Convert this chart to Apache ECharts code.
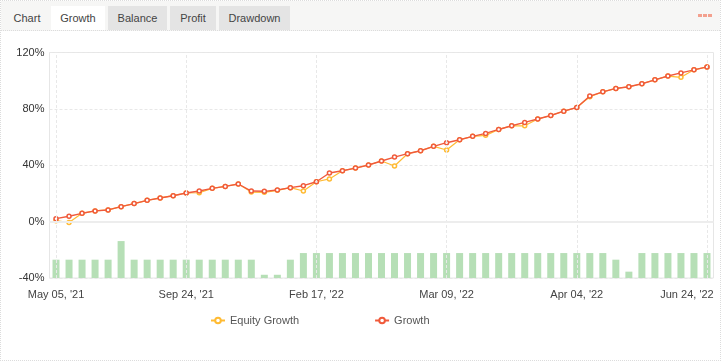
<!DOCTYPE html>
<html>
<head>
<meta charset="utf-8">
<script src="https://cdn.jsdelivr.net/npm/echarts@6/dist/echarts.min.js"></script>
<style>
  html, body { margin: 0; padding: 0; background: #fff; }
  #wrap { position: relative; width: 721px; height: 361px; box-sizing: border-box; border: 1px dotted #dcdcdc; overflow: hidden; }
  #strip { position: absolute; left: 0; top: 0; width: 721px; height: 29px; background: #f6f6f5; border-bottom: 1px dotted #dcdcdc; }
  .tab { position: absolute; top: 5px; height: 24px; line-height: 24px; font-family: Arial, "Liberation Sans", sans-serif; font-size: 11px; color: #444; text-align: center; box-sizing: border-box; }
  .tab.grey { background: #e4e4e4; }
  .tab.active { background: #fff; }
  .dot { position: absolute; top: 13px; width: 4px; height: 3px; background: #f3a08e; }
  #chart { position: absolute; left: 0; top: 0; width: 721px; height: 361px; }
</style>
</head>
<body>
<div id="wrap">
  <div id="chart"></div>
  <div id="strip">
    <div class="tab" style="left:4px;width:44px;">Chart</div>
    <div class="tab active" style="left:50px;width:54px;">Growth</div>
    <div class="tab grey" style="left:107px;width:59px;">Balance</div>
    <div class="tab grey" style="left:169px;width:46px;">Profit</div>
    <div class="tab grey" style="left:218px;width:71px;">Drawdown</div>
    <div class="dot" style="left:697px;"></div>
    <div class="dot" style="left:702px;"></div>
    <div class="dot" style="left:707px;"></div>
  </div>
</div>
<script>
// ---- data ----
const categories = [
  "May 05, '21", "May 19, '21", "Jun 02, '21", "Jun 16, '21", "Jun 30, '21",
  "Jul 14, '21", "Jul 28, '21", "Aug 11, '21", "Aug 25, '21", "Sep 09, '21",
  "Sep 24, '21", "Oct 08, '21", "Oct 22, '21", "Nov 05, '21", "Nov 19, '21",
  "Dec 03, '21", "Dec 17, '21", "Dec 31, '21", "Jan 14, '22", "Feb 01, '22",
  "Feb 17, '22", "Feb 19, '22", "Feb 21, '22", "Feb 23, '22", "Feb 25, '22",
  "Feb 28, '22", "Mar 01, '22", "Mar 03, '22", "Mar 05, '22", "Mar 07, '22",
  "Mar 09, '22", "Mar 11, '22", "Mar 14, '22", "Mar 16, '22", "Mar 18, '22",
  "Mar 22, '22", "Mar 24, '22", "Mar 28, '22", "Mar 30, '22", "Apr 01, '22",
  "Apr 04, '22", "Apr 12, '22", "Apr 20, '22", "Apr 28, '22", "May 06, '22",
  "May 16, '22", "May 24, '22", "Jun 01, '22", "Jun 09, '22", "Jun 16, '22",
  "Jun 24, '22"
];
const growth = [
  2.1, 3.8, 5.9, 7.6, 8.3, 10.6, 12.8, 15.1, 16.8, 18.4,
  20.3, 21.7, 23.6, 25.0, 26.7, 21.7, 21.5, 22.4, 24.1, 25.5,
  28.3, 34.5, 36.1, 38.0, 40.2, 43.0, 45.8, 48.2, 50.3, 53.4,
  56.0, 58.1, 60.5, 62.6, 65.4, 68.0, 70.4, 72.8, 75.3, 78.4,
  81.0, 89.1, 92.1, 94.5, 95.7, 97.8, 100.6, 103.3, 105.5, 107.7, 109.8
];
const equityGrowth = [
  0.7, -0.7, 5.9, 7.6, 8.3, 10.6, 12.8, 15.1, 16.8, 18.4,
  20.3, 20.5, 23.6, 25.0, 26.7, 21.0, 20.8, 22.2, 24.1, 21.7,
  28.3, 30.3, 36.1, 38.0, 40.2, 43.0, 39.5, 48.2, 50.3, 53.4,
  50.8, 58.1, 60.5, 61.2, 65.4, 68.0, 68.0, 72.8, 75.3, 78.4,
  81.0, 88.6, 92.1, 94.5, 95.7, 97.8, 100.6, 103.3, 102.4, 107.7, 109.8
];
const activity = [
  13, 13, 13, 13, 13, 26.2, 13, 13, 13, 13,
  13, 13, 13, 13, 13, 13, 2.3, 2.3, 13, 17.7,
  17.7, 17.7, 17.7, 17.7, 17.7, 17.7, 17.7, 17.7, 17.7, 17.7,
  17.7, 17.7, 17.7, 17.7, 17.7, 17.7, 17.7, 17.7, 17.7, 17.7,
  17.7, 17.7, 17.7, 13, 4.5, 17.7, 17.7, 17.7, 17.7, 17.7, 17.7
];
const yTicks = { min: -40, max: 120, interval: 40 };
const labelEvery = 10;
const gridlineIdx = [0, 10, 20, 30, 40, 50];

const FONT = 'Arial, "Liberation Sans", sans-serif';
const chart = echarts.init(document.getElementById('chart'), null, { renderer: 'canvas' });
const lastIdx = categories.length - 1;
const GRID_DASH = { color: '#e8e8e8', type: [3, 2], width: 1 };

chart.setOption({
  animation: false,
  backgroundColor: '#fff',
  grid: { left: 48.5, right: 8.5, top: 51.5, bottom: 84, show: true, borderColor: '#e6e6e6', borderWidth: 1 },
  legend: {
    left: 204, top: 309, itemGap: 75, itemWidth: 14, itemHeight: 7,
    textStyle: { color: '#555', fontSize: 11, fontFamily: FONT },
    data: ['Equity Growth', 'Growth']
  },
  xAxis: {
    type: 'category', data: categories, boundaryGap: true,
    axisLine: { show: false }, axisTick: { show: false },
    splitLine: { show: false },
    axisLabel: {
      interval: labelEvery - 1, color: '#444', fontSize: 11, fontFamily: FONT, margin: 11,
      formatter: function (v, i) { return i === lastIdx ? '{last|' + v + '}' : v; },
      rich: { last: { color: '#444', fontSize: 11, fontFamily: FONT, padding: [0, 40, 0, 0] } }
    }
  },
  yAxis: [
    {
      type: 'value', min: yTicks.min, max: yTicks.max, interval: yTicks.interval,
      axisLine: { show: false }, axisTick: { show: false },
      axisLabel: { formatter: '{value}%', color: '#333', fontSize: 11, fontFamily: FONT, margin: 5 },
      splitLine: { lineStyle: GRID_DASH }
    },
    { type: 'value', min: 0, max: yTicks.max - yTicks.min, show: false, splitLine: { show: false } }
  ],
  series: [
    {
      name: 'guides', type: 'line', data: [], silent: true, z: 1,
      markLine: {
        silent: true, symbol: 'none', label: { show: false }, animation: false,
        data: gridlineIdx.map(i => ({ xAxis: i, lineStyle: GRID_DASH }))
          .concat([{ yAxis: 0, lineStyle: { color: '#ededed', type: 'solid', width: 2 } }])
      }
    },
    {
      name: 'activity', type: 'bar', yAxisIndex: 1, data: activity, barWidth: 7, z: 2,
      itemStyle: { color: '#b6dfb6' }, silent: true
    },
    {
      name: 'Equity Growth', type: 'line', data: equityGrowth, z: 3,
      symbol: 'circle', symbolSize: 4, showAllSymbol: true,
      lineStyle: { color: '#ffbb33', width: 1.2 },
      itemStyle: { color: '#fff', borderColor: '#ffbb33', borderWidth: 1.5 }
    },
    {
      name: 'Growth', type: 'line', data: growth, z: 4,
      symbol: 'circle', symbolSize: 4, showAllSymbol: true,
      lineStyle: { color: '#f05a3b', width: 1.4 },
      itemStyle: { color: '#fff', borderColor: '#f05a3b', borderWidth: 1.5 }
    }
  ]
});
</script>
</body>
</html>
